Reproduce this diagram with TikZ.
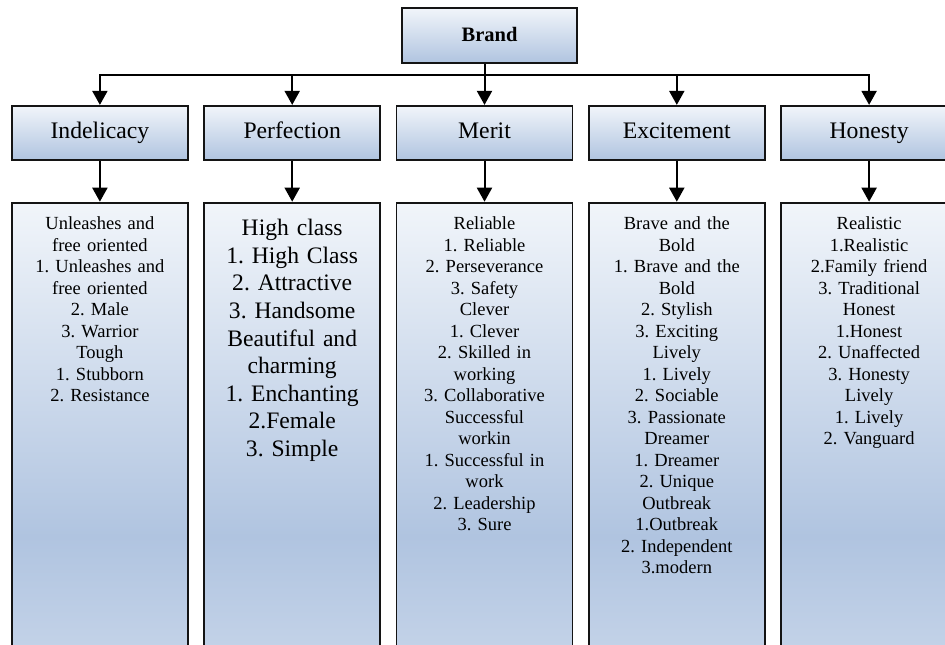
\documentclass[tikz,border=0pt]{standalone}
\usepackage{fontspec}
\setmainfont{Liberation Serif}
\frenchspacing
\usetikzlibrary{positioning}
\usetikzlibrary{arrows.meta}
\definecolor{paleblue}{RGB}{241,245,250}
\definecolor{steelblue}{RGB}{176,196,224}
\definecolor{midblue}{RGB}{200,214,234}
\definecolor{boxline}{RGB}{20,20,20}
\pgfdeclareverticalshading{lowgrad}{100bp}{color(0bp)=(midblue); color(25bp)=(midblue); color(40bp)=(steelblue); color(75bp)=(paleblue); color(100bp)=(paleblue)}

\begin{document}
\begin{tikzpicture}[
    x=1pt, y=1pt,
    node distance=41pt and 14.5pt,
    >={Triangle[length=14pt,width=15pt]},
    % node styles
    headbox/.style = {
      draw=boxline,
      line width=1.8pt,
      top color=paleblue,
      bottom color=steelblue,
      minimum width=175pt,
      minimum height=55pt,
      inner sep=0pt,
      text height=14pt,
      text depth=2pt,
      font=\bfseries\fontsize{20.5}{24}\selectfont
    },
    catbox/.style = {
      draw=boxline,
      line width=1.8pt,
      top color=paleblue,
      bottom color=steelblue,
      minimum width=176pt,
      minimum height=54pt,
      inner sep=0pt,
      text height=16pt,
      text depth=4pt,
      font=\fontsize{23.7}{28}\selectfont
    },
    listbox/.style = {
      draw=boxline,
      line width=1.8pt,
      shade,
      shading=lowgrad,
      text width=166pt,
      align=center,
      inner xsep=5pt,
      inner ysep=10pt,
      text height=17pt,
      text depth=440pt,
      font=\fontsize{18.5}{21.5}\selectfont
    },
    bigtext/.style = {
      text height=23pt,
      text depth=434pt,
      font=\fontsize{23.6}{27.6}\selectfont
    },
    % arrow styles
    arr/.style = {->, line width=2pt, draw=black}
  ]
  \useasboundingbox (0,0) rectangle (945,-645);

  % --- Nodes
  \node[headbox] (brand) at (489.5,-35.5) {Brand};

  \node[catbox, below=of brand, xshift=-5pt] (merit) {Merit};
  \node[catbox, left=of merit] (perf) {Perfection};
  \node[catbox, left=of perf] (indel) {Indelicacy};
  \node[catbox, right=of merit] (excite) {Excitement};
  \node[catbox, right=of excite] (honest) {Honesty};

  \node[listbox, below=of indel] (indellist) {Unleashes and\\free oriented\\1. Unleashes and\\free oriented\\2. Male\\3. Warrior\\Tough\\1. Stubborn\\2. Resistance};
  \node[listbox, bigtext, below=of perf] (perflist) {High class\\1. High Class\\2. Attractive\\3. Handsome\\Beautiful and\\charming\\1. Enchanting\\2.Female\\3. Simple};
  \node[listbox, below=of merit] (meritlist) {Reliable\\1. Reliable\\2. Perseverance\\3. Safety\\Clever\\1. Clever\\2. Skilled in\\working\\3. Collaborative\\Successful\\workin\\1. Successful in\\work\\2. Leadership\\3. Sure};
  \node[listbox, below=of excite] (excitelist) {Brave and the\\Bold\\1. Brave and the\\Bold\\2. Stylish\\3. Exciting\\Lively\\1. Lively\\2. Sociable\\3. Passionate\\Dreamer\\1. Dreamer\\2. Unique\\Outbreak\\1.Outbreak\\2. Independent\\3.modern};
  \node[listbox, below=of honest] (honestlist) {Realistic\\1.Realistic\\2.Family friend\\3. Traditional\\Honest\\1.Honest\\2. Unaffected\\3. Honesty\\Lively\\1. Lively\\2. Vanguard};

  % --- Arrows
  \coordinate (bar) at (0,-75);
  \draw[arr] (merit.north |- brand.south) -- (merit.north |- bar) -| (indel.north);
  \draw[arr] (merit.north |- bar) -| (honest.north);
  \draw[arr] (perf.north |- bar) -- (perf.north);
  \draw[arr] (merit.north |- bar) -- (merit.north);
  \draw[arr] (excite.north |- bar) -- (excite.north);

  \draw[arr] (indel) -- (indellist);
  \draw[arr] (perf) -- (perflist);
  \draw[arr] (merit) -- (meritlist);
  \draw[arr] (excite) -- (excitelist);
  \draw[arr] (honest) -- (honestlist);

\end{tikzpicture}
\end{document}
